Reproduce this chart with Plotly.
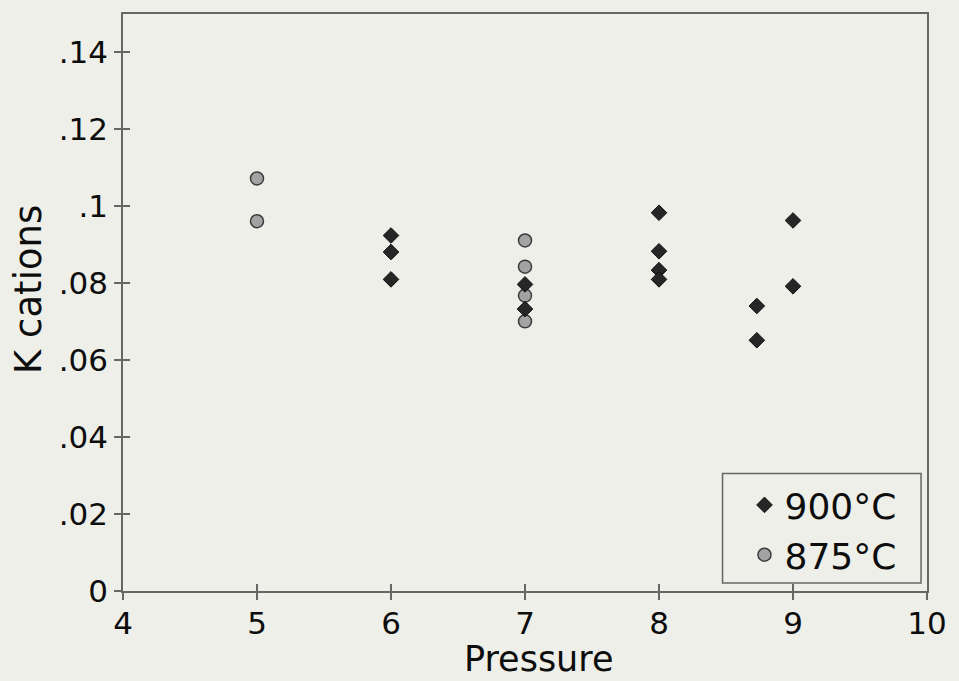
import plotly.graph_objects as go

# K cations vs pressure for two run temperatures
p_900 = [6, 6, 6, 7, 7, 8, 8, 8, 8, 8.73, 8.73, 9, 9]
k_900 = [0.0923, 0.0880, 0.0809, 0.0796, 0.0732, 0.0982, 0.0882, 0.0833, 0.0809,
         0.0740, 0.0651, 0.0962, 0.0791]

p_875 = [5, 5, 7, 7, 7, 7]
k_875 = [0.1071, 0.0960, 0.0910, 0.0842, 0.0767, 0.0700]

x_ticks = [4, 5, 6, 7, 8, 9, 10]
y_ticks = [0, 0.02, 0.04, 0.06, 0.08, 0.10, 0.12, 0.14]
y_tick_text = ["0", ".02", ".04", ".06", ".08", ".1", ".12", ".14"]

X_RANGE = [4, 10]
Y_RANGE = [0, 0.1498]

BG = "#edefe8"
AXIS = "#666666"
INK = "#0d0d0d"
FONT = "DejaVu Sans"

fig = go.Figure()

fig.add_trace(go.Scatter(
    x=p_875, y=k_875, mode="markers", name="875°C", legendrank=2,
    marker=dict(symbol="circle", size=13, color="#a3a3a3",
                line=dict(color="#3c3c3c", width=1.5)),
))
fig.add_trace(go.Scatter(
    x=p_900, y=k_900, mode="markers", name="900°C", legendrank=1,
    marker=dict(symbol="diamond", size=12, color="#262626",
                line=dict(color="#111111", width=1)),
))
# empty trace so the overlay axes (inner half of the ticks) get drawn
fig.add_trace(go.Scatter(x=[None], y=[None], xaxis="x2", yaxis="y2",
                         showlegend=False, hoverinfo="skip"))

tick_font = dict(family=FONT, size=31, color=INK)

fig.update_layout(
    width=959, height=681,
    margin=dict(l=123, r=26, t=12, b=90),
    paper_bgcolor=BG, plot_bgcolor=BG,
    font=dict(family=FONT, color=INK),
    showlegend=True,
    legend=dict(
        x=0.773, y=0.201, xanchor="left", yanchor="top",
        bgcolor="rgba(0,0,0,0)", borderwidth=0,
        font=dict(family=FONT, size=36, color=INK),
        itemsizing="trace",
    ),
    xaxis=dict(
        range=X_RANGE, tickvals=x_ticks, ticks="outside", ticklen=7,
        tickcolor=AXIS, tickwidth=1.5, showline=True, linecolor=AXIS,
        linewidth=1.5, mirror=True, showgrid=False, zeroline=False,
        tickfont=tick_font, ticklabelstandoff=-3,
    ),
    yaxis=dict(
        range=Y_RANGE, tickvals=y_ticks, ticktext=y_tick_text,
        ticks="outside", ticklen=7, tickcolor=AXIS, tickwidth=1.5,
        showline=True, linecolor=AXIS, linewidth=1.5, mirror=True,
        showgrid=False, zeroline=False, tickfont=tick_font,
    ),
    xaxis2=dict(
        range=X_RANGE, tickvals=x_ticks, ticks="inside", ticklen=7,
        tickcolor=AXIS, tickwidth=1.5, showticklabels=False,
        showline=False, showgrid=False, zeroline=False,
        overlaying="x", anchor="y2",
    ),
    yaxis2=dict(
        range=Y_RANGE, tickvals=y_ticks, ticks="inside", ticklen=7,
        tickcolor=AXIS, tickwidth=1.5, showticklabels=False,
        showline=False, showgrid=False, zeroline=False,
        overlaying="y", anchor="x2",
    ),
    annotations=[
        dict(text="Pressure", xref="paper", yref="paper",
             x=0.517, y=-0.1554, xanchor="center", yanchor="bottom",
             showarrow=False, font=dict(family=FONT, size=35, color=INK)),
        dict(text="K cations", xref="paper", yref="paper",
             x=-0.1173, y=0.523, xanchor="center", yanchor="middle",
             textangle=-90, showarrow=False,
             font=dict(family=FONT, size=37, color=INK)),
    ],
    shapes=[dict(
        type="rect", xref="paper", yref="paper",
        x0=0.7457, x1=0.9926, y0=0.0138, y1=0.2038,
        line=dict(color=AXIS, width=1.5), fillcolor="rgba(0,0,0,0)",
    )],
)

fig.write_html("out.html")
